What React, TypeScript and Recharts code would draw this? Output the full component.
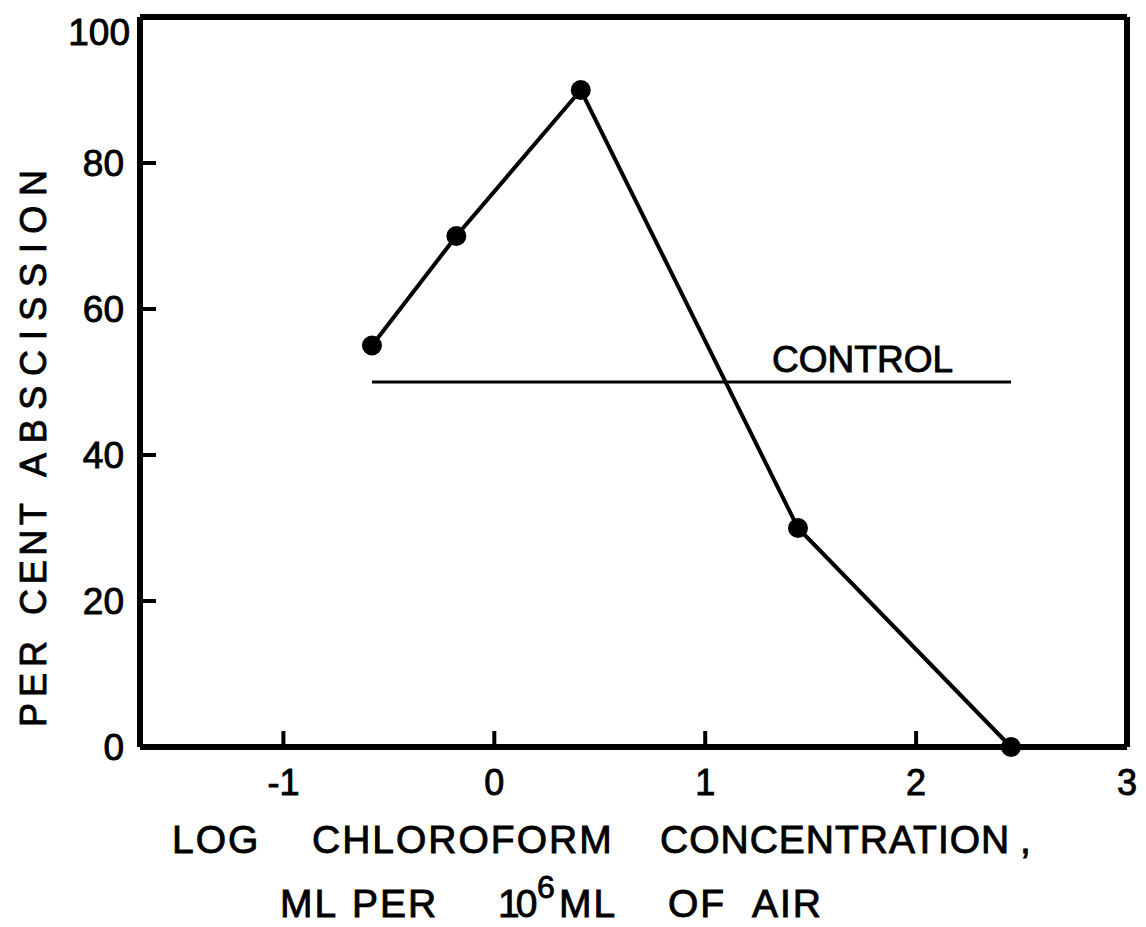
import { LineChart, Line, XAxis, YAxis, ReferenceLine } from 'recharts';

// log chloroform concentration (ml per 10^6 ml of air) vs per cent abscission
const logConcentration = [-0.58, -0.18, 0.41, 1.44, 2.45];
const perCentAbscission = [55, 70, 90, 30, 0];
const controlRange = [-0.58, 2.45];
const controlLevel = 50;
const xTicks = [-1, 0, 1, 2, 3];
const yTicks = [0, 20, 40, 60, 80, 100];

const data = logConcentration.map((x, i) => ({ x, y: perCentAbscission[i] }));

const FONT = '"Liberation Sans", Arial, sans-serif';
const INK = '#000';
const X_DOMAIN = [-1.68, 3];

const inkText = { fontFamily: FONT, fill: INK, stroke: INK, strokeWidth: 0.9 };

function BottomTick({ x, y, payload }: any) {
  const v = payload.value;
  return (
    <g>
      {v !== 3 && <line x1={x} y1={y} x2={x} y2={y - 16} stroke={INK} strokeWidth={4} />}
      <text x={x} y={y + 48} textAnchor="middle" fontSize={36} {...inkText}>
        {String(v)}
      </text>
    </g>
  );
}

function LeftTick({ x, y, payload }: any) {
  const v = payload.value;
  const top = v === 100;
  return (
    <g>
      {v !== 0 && !top && <line x1={x} y1={y} x2={x + 16} y2={y} stroke={INK} strokeWidth={4} />}
      <text x={top ? x - 10 : x - 16} y={top ? y + 28 : y + 13} textAnchor="end" fontSize={37} {...inkText}>
        {String(v)}
      </text>
    </g>
  );
}

function RightTick({ x, y, payload }: any) {
  const v = payload.value;
  if (v === 0 || v === 100) return <g />;
  return <line x1={x} y1={y} x2={x - 16} y2={y} stroke={INK} strokeWidth={4} />;
}

function word(text: string, x: number, y: number, size = 39, spacing = 2) {
  return (
    <text key={text + x} x={x} y={y} fontSize={size} letterSpacing={spacing} {...inkText}>
      {text}
    </text>
  );
}

function XTitle({ viewBox }: any) {
  if (!viewBox) return null;
  const top = viewBox.y;
  const b1 = top + 106;
  const b2 = top + 170;
  return (
    <g>
      {word('LOG', 172, b1)}
      {word('CHLOROFORM', 312, b1)}
      {word('CONCENTRATION', 660, b1, 39, 1)}
      {word(',', 1020, b1)}
      {word('ML', 280, b2)}
      {word('PER', 352, b2)}
      {word('10', 498, b2, 39, -4)}
      {word('6', 537, b2 - 19, 32)}
      {word('ML', 559, b2)}
      {word('OF', 668, b2)}
      {word('AIR', 752, b2)}
    </g>
  );
}

function YTitle({ viewBox }: any) {
  if (!viewBox) return null;
  const bx = viewBox.x + 46;
  const by = viewBox.y + 710;
  const part = (t: string, at: number, len: number) => (
    <text x={at} y={0} textLength={len} lengthAdjust="spacing" fontSize={36} {...inkText}>
      {t}
    </text>
  );
  return (
    <g transform={`translate(${bx},${by}) rotate(-90)`}>
      {part('PER', 0, 86)}
      {part('CENT', 112, 112)}
      {part('ABSCISSION', 250, 307)}
    </g>
  );
}

function ControlLabel({ viewBox }: any) {
  if (!viewBox) return null;
  const right = viewBox.x + viewBox.width - 58;
  return (
    <text x={right} y={viewBox.y - 10} textAnchor="end" fontSize={37} {...inkText}>
      CONTROL
    </text>
  );
}

export default function App() {
  return (
    <div style={{ position: 'absolute', left: 0, top: 0, background: '#fff' }}>
      <LineChart width={1146} height={927} data={data} margin={{ top: 16, right: 18, left: 0, bottom: 0 }}>
        <XAxis
          dataKey="x"
          type="number"
          domain={X_DOMAIN}
          ticks={xTicks}
          allowDataOverflow
          height={180}
          tickSize={0}
          tickMargin={0}
          tickLine={false}
          tick={<BottomTick />}
          axisLine={{ stroke: INK, strokeWidth: 6 }}
          label={(p: any) => <XTitle {...p} />}
        />
        <XAxis
          xAxisId="top"
          orientation="top"
          dataKey="x"
          type="number"
          domain={X_DOMAIN}
          allowDataOverflow
          height={1}
          tick={false}
          tickLine={false}
          axisLine={{ stroke: INK, strokeWidth: 6 }}
        />
        <YAxis
          type="number"
          domain={[0, 100]}
          ticks={yTicks}
          width={140}
          tickSize={0}
          tickMargin={0}
          tickLine={false}
          tick={<LeftTick />}
          axisLine={{ stroke: INK, strokeWidth: 6 }}
          label={(p: any) => <YTitle {...p} />}
        />
        <YAxis
          yAxisId="right"
          orientation="right"
          type="number"
          domain={[0, 100]}
          ticks={yTicks}
          width={1}
          tickSize={0}
          tickMargin={0}
          tickLine={false}
          tick={<RightTick />}
          axisLine={{ stroke: INK, strokeWidth: 6 }}
        />
        <ReferenceLine
          segment={[
            { x: controlRange[0], y: controlLevel },
            { x: controlRange[1], y: controlLevel },
          ]}
          stroke={INK}
          strokeWidth={3}
          label={(p: any) => <ControlLabel {...p} />}
        />
        <Line
          type="linear"
          dataKey="y"
          stroke={INK}
          strokeWidth={4}
          dot={{ r: 10, fill: INK, stroke: INK, strokeWidth: 0 }}
          activeDot={false}
          isAnimationActive={false}
        />
      </LineChart>
    </div>
  );
}
